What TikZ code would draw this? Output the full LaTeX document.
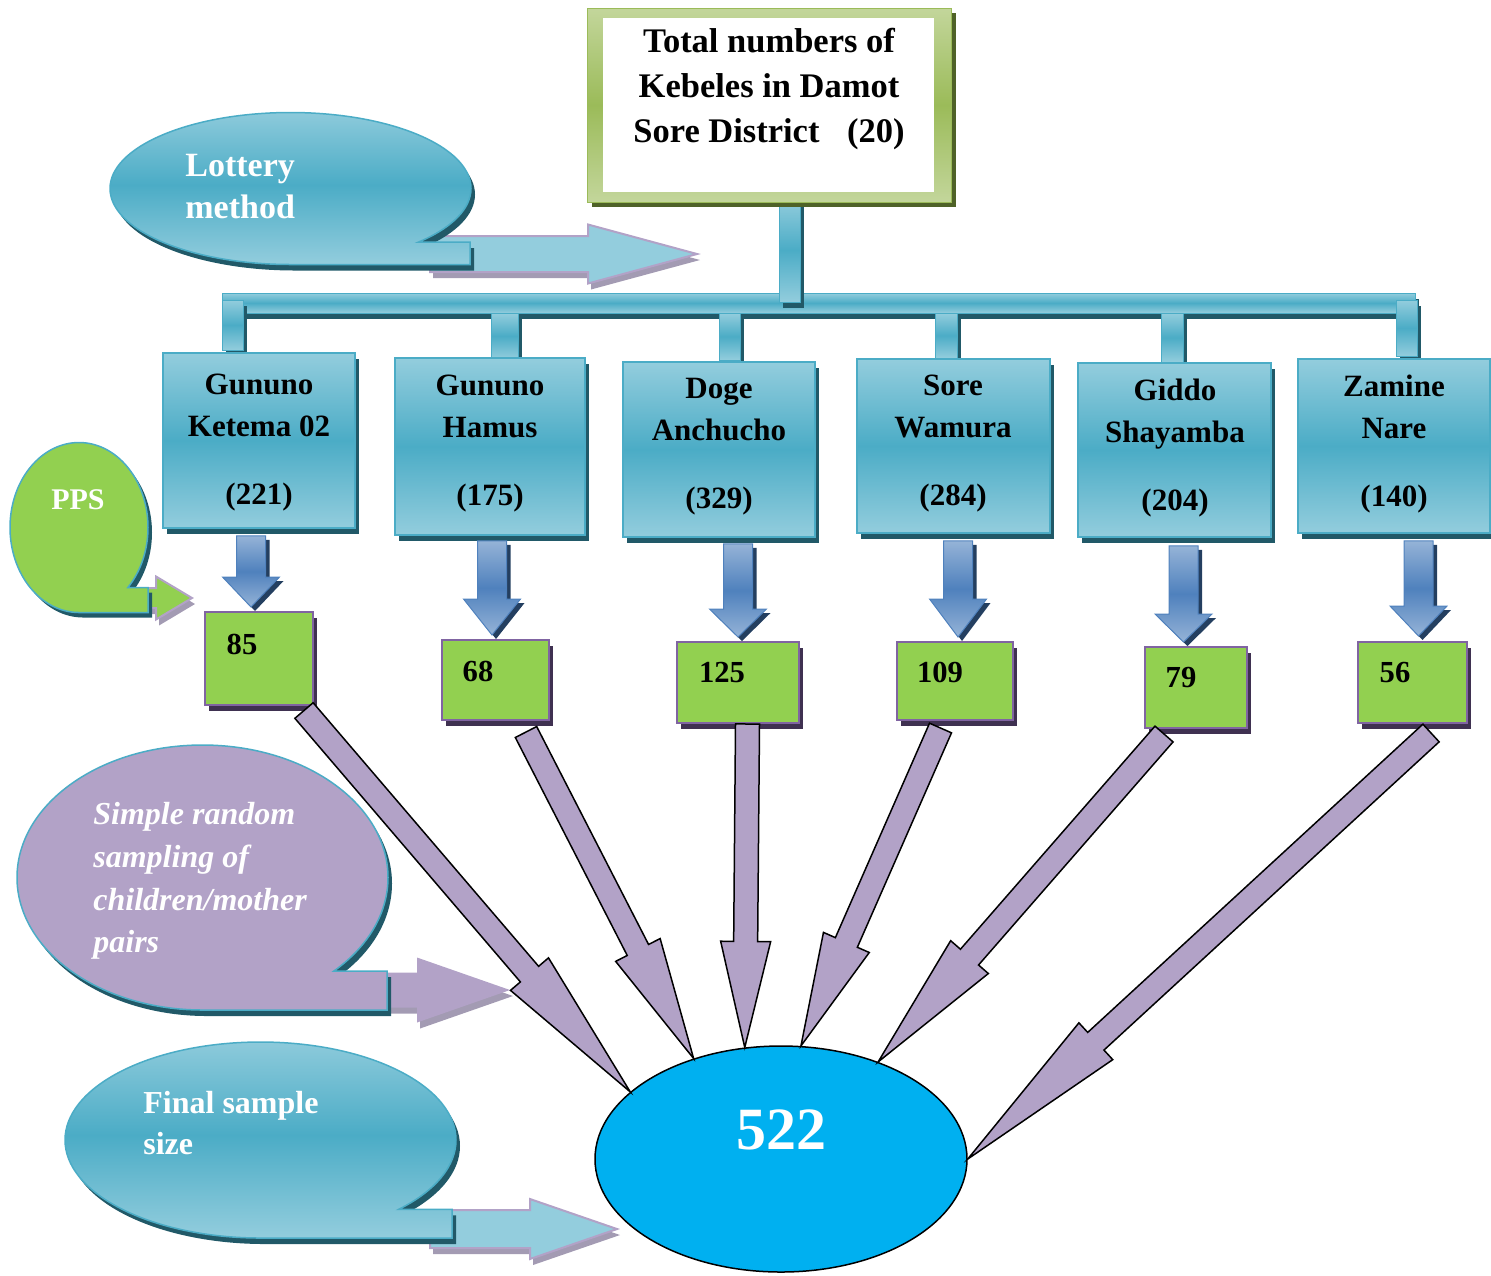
\documentclass[tikz,border=0pt]{standalone}
\usepackage{fontspec}
\setmainfont{Liberation Serif}
\usetikzlibrary{calc,fit,shadows,shapes.geometric}
\definecolor{tealL}{HTML}{93CDDD}
\definecolor{tealM}{HTML}{4BACC6}
\definecolor{tealD}{HTML}{215968}
\definecolor{grn}{HTML}{92D050}
\definecolor{purB}{HTML}{8064A2}
\definecolor{purD}{HTML}{3F3151}
\definecolor{lav}{HTML}{B2A2C7}
\definecolor{sky}{HTML}{00B0F0}
\definecolor{olL}{HTML}{C3D69B}
\definecolor{olM}{HTML}{9BBB59}
\definecolor{olD}{HTML}{4F6228}
\definecolor{bluL}{HTML}{95B3D7}
\definecolor{bluM}{HTML}{4F81BD}
\definecolor{bluD}{HTML}{243F60}
\definecolor{grayS}{HTML}{A39BB3}
% block arrow: style, start, tip, half shaft, half head, head length
\newcommand{\blkarrow}[6]{%
  \coordinate (bkH) at ($(#3)!#6!(#2)$);
  \path[#1] ($(#2)!#4!90:(#3)$) -- ($(bkH)!#4!90:(#3)$) -- ($(bkH)!#5!90:(#3)$) -- (#3)
    -- ($(bkH)!#5!-90:(#3)$) -- ($(bkH)!#4!-90:(#3)$) -- ($(#2)!#4!-90:(#3)$) -- cycle;}
% oval callout with tail: style, cx, cy, rx, ry, right x of tail
\newcommand{\myCallout}[6]{%
  \path[#1] ({#2+#4*cos(45)},{#3+#5*sin(45)}) arc[start angle=45,end angle=-270,x radius=#4,y radius=#5]
    -- (#6,{#3+#5}) -- (#6,{#3+#5*sin(45)}) -- cycle;}
\begin{document}
\begin{tikzpicture}[x=0.5pt,y=-0.5pt,
  tealshade/.style={top color=tealL, bottom color=tealL, middle color=tealM},
  kbox/.style={inner sep=0pt, draw=tealM, line width=0.75pt, tealshade,
    drop shadow={shadow xshift=2pt, shadow yshift=-3pt, fill=tealD, opacity=1}},
  gbox/.style={inner sep=0pt, draw=purB, line width=1pt, fill=grn,
    drop shadow={shadow xshift=2pt, shadow yshift=-3pt, fill=purD, opacity=1}},
  ktext/.style={font=\bfseries\fontsize{15.5pt}{21pt}\selectfont, align=center, inner sep=0pt},
  gtext/.style={font=\bfseries\fontsize{15.3pt}{18pt}\selectfont, inner sep=0pt},
  ctext/.style={font=\bfseries\fontsize{17pt}{21pt}\selectfont, text=white, align=left, inner sep=0pt, anchor=west},
  bar/.style={draw=tealM, line width=0.5pt, tealshade,
    drop shadow={shadow xshift=2pt, shadow yshift=-3pt, fill=tealD, opacity=1}},
  purarrow/.style={fill=lav, draw=black, line width=0.75pt},
  bluearrow/.style={top color=bluL, bottom color=bluL, middle color=bluM, draw=bluM, line width=0.5pt},
  callarrow/.style={draw=lav, line width=1pt},
  shadecall/.style={tealshade, draw=tealM, line width=0.75pt},
  callshadow/.style={fill=tealD, shift={(4,6)}}
]
\useasboundingbox (0,0) rectangle (1491,1275);

% ---------- Lottery method callout
\begin{scope}[transform canvas={shift={(1.5pt,-3pt)}}]
\blkarrow{fill=grayS}{430,254}{697,254}{9pt}{14.75pt}{54.5pt}
\end{scope}
\blkarrow{callarrow, fill=tealL}{430,254}{697,254}{9pt}{14.75pt}{54.5pt}
\myCallout{callshadow}{290.5}{188.5}{180.5}{76}{470}
\myCallout{shadecall}{290.5}{188.5}{180.5}{76}{470}
\node[ctext] (tlot) at (185,187) {Lottery\\method};

% ---------- tree connector bars
\path[bar] (222,293) rectangle (1415,313);
\path[bar] (222,300) rectangle (243,350);
\path[bar] (1396,300) rectangle (1417,356);
\path[bar] (491,313) rectangle (518,359);
\path[bar] (719,313) rectangle (740,360);
\path[bar] (935,313) rectangle (957,358);
\path[bar] (1161,313) rectangle (1183,362);
\path[bar] (779,198) rectangle (800,302);

% ---------- top box
\node[fit={(587,8) (951,202)}, inner sep=0pt, draw=olM, line width=0.5pt, top color=olL, bottom color=olL, middle color=olM,
  drop shadow={shadow xshift=2.5pt, shadow yshift=-2.5pt, fill=olD, opacity=1}] (top) {};
\node[fit={(603,18) (934,192)}, inner sep=0pt, fill=white] (topin) {};
\node[font=\bfseries\fontsize{17.25pt}{22.5pt}\selectfont, align=center, inner sep=0pt] (toptxt) at (769,89)
  {Total numbers of\\Kebeles in Damot\\Sore District\hspace{0.8em}(20)};

% ---------- kebele boxes
\node[kbox, fit={(163,353) (355,528)}] (k1) {};
\node[kbox, fit={(395,358) (585,535)}] (k2) {};
\node[kbox, fit={(623,362) (815,537)}] (k3) {};
\node[kbox, fit={(857,359) (1050,533)}] (k4) {};
\node[kbox, fit={(1078,363) (1271,537)}] (k5) {};
\node[kbox, fit={(1298,359) (1490,533)}] (k6) {};
\node[ktext] (k1t) at (259,443) {Gununo\\Ketema 02\\[13pt](221)};
\node[ktext] (k2t) at (490,444) {Gununo\\Hamus\\[13pt](175)};
\node[ktext] (k3t) at (719,447) {Doge\\Anchucho\\[13pt](329)};
\node[ktext] (k4t) at (953,444) {Sore\\Wamura\\[13pt](284)};
\node[ktext] (k5t) at (1175,448) {Giddo\\Shayamba\\[13pt](204)};
\node[ktext] (k6t) at (1394,444) {Zamine\\Nare\\[13pt](140)};

% ---------- PPS callout
\begin{scope}[transform canvas={shift={(1.5pt,-3pt)}}]
\blkarrow{fill=grayS}{130,598}{192,598}{5pt}{10.75pt}{18pt}
\end{scope}
\blkarrow{callarrow, fill=grn}{130,598}{192,598}{5pt}{10.75pt}{18pt}
\myCallout{fill=tealD, shift={(4,5)}}{79}{527.5}{69}{85}{148}
\myCallout{fill=grn, draw=tealM, line width=0.75pt}{79}{527.5}{69}{85}{148}
\node[font=\bfseries\fontsize{15pt}{18pt}\selectfont, text=white, inner sep=0pt] (tpps) at (78,500) {PPS};

% ---------- green boxes
\node[gbox, fit={(205,612) (313,705)}] (g1) {};
\node[gbox, fit={(442,640) (549,720)}] (g2) {};
\node[gbox, fit={(677,642) (799,723)}] (g3) {};
\node[gbox, fit={(897,642) (1013,720)}] (g4) {};
\node[gbox, fit={(1145,647) (1247,728)}] (g5) {};
\node[gbox, fit={(1358,642) (1467,723)}] (g6) {};
\node[gtext] (g1t) at (242,644) {85};
\node[gtext] (g2t) at (478,671) {68};
\node[gtext] (g3t) at (722,673) {125};
\node[gtext] (g4t) at (940,672) {109};
\node[gtext] (g5t) at (1181,678) {79};
\node[gtext] (g6t) at (1395,673) {56};

% ---------- blue arrows kebele -> sample
\coordinate (b1s) at ($(k1.south)+(-8,7)$);
\coordinate (b2s) at ($(k2.south)+(2,5)$);
\coordinate (b3s) at ($(k3.south)+(19,6)$);
\coordinate (b4s) at ($(k4.south)+(4.5,7)$);
\coordinate (b5s) at ($(k5.south)+(9,8)$);
\coordinate (b6s) at ($(k6.south)+(24.5,7)$);
\coordinate (b1e) at ($(b1s |- g1.north)+(0,-4)$);
\coordinate (b2e) at ($(b2s |- g2.north)+(0,-4)$);
\coordinate (b3e) at ($(b3s |- g3.north)+(0,-4)$);
\coordinate (b4e) at ($(b4s |- g4.north)+(0,-4)$);
\coordinate (b5e) at ($(b5s |- g5.north)+(0,-4)$);
\coordinate (b6e) at ($(b6s |- g6.north)+(0,-5)$);
\begin{scope}[transform canvas={shift={(2pt,-2pt)}}]
\blkarrow{fill=bluD}{b1s}{b1e}{7.25pt}{14.25pt}{15pt}
\blkarrow{fill=bluD}{b2s}{b2e}{7.25pt}{14.25pt}{18pt}
\blkarrow{fill=bluD}{b3s}{b3e}{7.25pt}{14.25pt}{14pt}
\blkarrow{fill=bluD}{b4s}{b4e}{7.25pt}{14.25pt}{19pt}
\blkarrow{fill=bluD}{b5s}{b5e}{7.25pt}{14.25pt}{14pt}
\blkarrow{fill=bluD}{b6s}{b6e}{7.25pt}{14.25pt}{15pt}
\end{scope}
\blkarrow{bluearrow}{b1s}{b1e}{7.25pt}{14.25pt}{15pt}
\blkarrow{bluearrow}{b2s}{b2e}{7.25pt}{14.25pt}{18pt}
\blkarrow{bluearrow}{b3s}{b3e}{7.25pt}{14.25pt}{14pt}
\blkarrow{bluearrow}{b4s}{b4e}{7.25pt}{14.25pt}{19pt}
\blkarrow{bluearrow}{b5s}{b5e}{7.25pt}{14.25pt}{14pt}
\blkarrow{bluearrow}{b6s}{b6e}{7.25pt}{14.25pt}{15pt}

% ---------- Simple random sampling callout
\begin{scope}[transform canvas={shift={(1.5pt,-3pt)}}]
\blkarrow{fill=grayS}{370,990}{510,990}{8.75pt}{16.25pt}{46.5pt}
\end{scope}
\blkarrow{fill=lav}{370,990}{510,990}{8.75pt}{16.25pt}{46.5pt}
\myCallout{callshadow}{202.5}{877.5}{185.5}{132.5}{387}
\myCallout{fill=lav, draw=tealM, line width=0.75pt}{202.5}{877.5}{185.5}{132.5}{387}
\node[ctext, font=\bfseries\itshape\fontsize{16pt}{21.3pt}\selectfont] (tsrs) at (93,881)
  {Simple random\\sampling of\\children/mother\\pairs};

% ---------- Final sample size callout
\begin{scope}[transform canvas={shift={(1.5pt,-3pt)}}]
\blkarrow{fill=grayS}{430,1229}{617,1229}{9.5pt}{15pt}{43.5pt}
\end{scope}
\blkarrow{callarrow, fill=tealL}{430,1229}{617,1229}{9.5pt}{15pt}{43.5pt}
\myCallout{callshadow}{260.5}{1140}{195.5}{98}{452}
\myCallout{shadecall}{260.5}{1140}{195.5}{98}{452}
\node[ctext, font=\bfseries\fontsize{16pt}{20.5pt}\selectfont] (tfin) at (143,1123.5) {Final sample\\size};

% ---------- final ellipse
\node[ellipse, fill=sky, draw=black, line width=0.75pt, minimum width=186pt, minimum height=113pt, inner sep=0pt] (e) at (781,1159) {};
\node[font=\bfseries\fontsize{30pt}{36pt}\selectfont, text=white, inner sep=0pt] (t522) at (781,1130) {522};

% ---------- purple arrows sample -> total
\coordinate (p1s) at ($(g1.south)+(45,4.5)$);
\coordinate (p2s) at ($(g2.south)+(30.5,11)$);
\coordinate (p3s) at ($(g3.south)+(9.5,0)$);
\coordinate (p4s) at ($(g4.south)+(-14.5,7)$);
\coordinate (p5s) at ($(g5.south)+(-32,5)$);
\coordinate (p6s) at ($(g6.south)+(18.5,9)$);
\blkarrow{purarrow}{p1s}{e.156.5}{6pt}{12.5pt}{77.5pt}
\blkarrow{purarrow}{p2s}{e.131}{6pt}{12.5pt}{61pt}
\blkarrow{purarrow}{p3s}{e.108}{6pt}{12.5pt}{53pt}
\blkarrow{purarrow}{p4s}{e.80}{6pt}{12.5pt}{56.5pt}
\blkarrow{purarrow}{p5s}{e.45}{6pt}{12.5pt}{69.5pt}
\blkarrow{purarrow}{p6s}{e.0}{6pt}{12.5pt}{87pt}
\end{tikzpicture}
\end{document}
